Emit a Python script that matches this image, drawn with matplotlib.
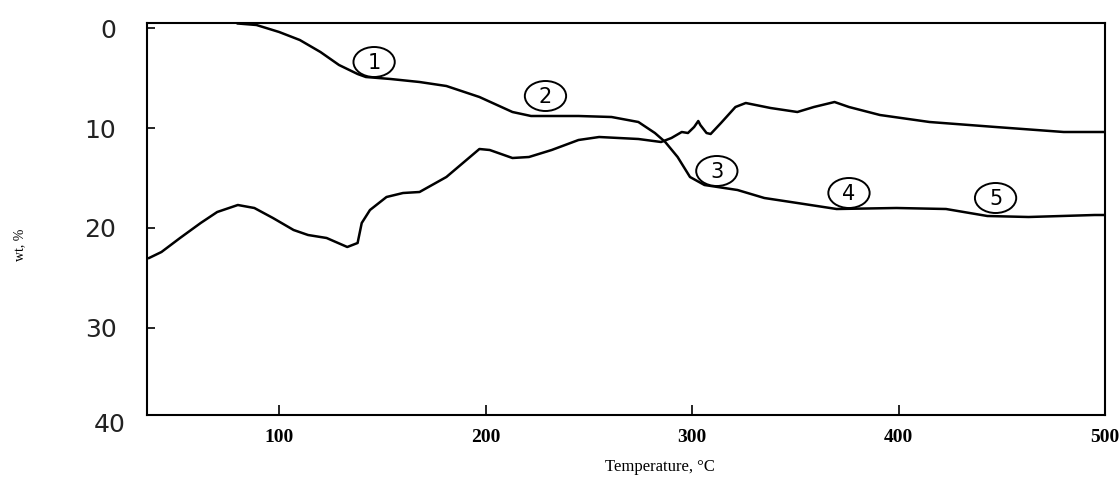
import numpy as np
import matplotlib
matplotlib.use("Agg")
from matplotlib import pyplot as plt
from matplotlib.patches import Ellipse

# upper curve (weight loss, steps 1-5)
tg_T = [80, 89, 100, 110, 120, 129, 138, 142, 154, 168, 181, 197, 213, 222, 245,
        261, 274, 282, 287, 293, 299, 306, 322, 335, 351, 370, 399, 423, 443, 463,
        495, 500]
tg_wt = [-0.45, -0.3, 0.4, 1.2, 2.4, 3.7, 4.6, 4.9, 5.1, 5.4, 5.8, 6.9, 8.4, 8.8, 8.8,
         8.9, 9.4, 10.5, 11.4, 12.9, 14.9, 15.7, 16.2, 17.0, 17.5, 18.1, 18.0, 18.1,
         18.8, 18.9, 18.7, 18.7]

# lower curve
dt_T = [37, 43, 52, 62, 70, 80, 88, 97, 107, 114, 123, 133, 138, 140, 144, 152, 160,
        168, 181, 197, 202, 213, 221, 232, 245, 255, 274, 285, 290, 295, 298, 301,
        303, 304, 307, 309, 314, 321, 326, 338, 351, 359, 369, 376, 391, 415, 447,
        480, 500]
dt_wt = [23.0, 22.4, 21.0, 19.5, 18.4, 17.7, 18.0, 19.0, 20.2, 20.7, 21.0, 21.9, 21.5,
         19.5, 18.2, 16.9, 16.5, 16.4, 14.9, 12.1, 12.2, 13.0, 12.9, 12.2, 11.2, 10.9,
         11.1, 11.4, 11.0, 10.4, 10.5, 9.9, 9.3, 9.7, 10.5, 10.6, 9.5, 7.9, 7.5, 8.0,
         8.4, 7.9, 7.4, 7.9, 8.7, 9.4, 9.9, 10.4, 10.4]

# circled step labels
step_names = ['1', '2', '3', '4', '5']
step_T = [146, 229, 312, 376, 447]
step_wt = [3.4, 6.8, 14.3, 16.5, 17.0]

x_ticks = [100, 200, 300, 400, 500]
y_ticks = [0, 10, 20, 30]

fig = plt.figure(figsize=(11.19, 4.82), dpi=100)
ax = fig.add_axes([147 / 1119, 1 - 415 / 482, (1105 - 147) / 1119, (415 - 23) / 482])

ax.plot(tg_T, tg_wt, color='black', lw=1.8)
ax.plot(dt_T, dt_wt, color='black', lw=1.8)

for name, t, w in zip(step_names, step_T, step_wt):
    ax.add_patch(Ellipse((t, w), 20, 3.0, fc='white', ec='black', lw=1.4, zorder=3))
    ax.text(t, w + 0.1, name, ha='center', va='center', fontsize=15,
            family='DejaVu Sans', zorder=4)

ax.set_xlim(36, 500)
ax.set_ylim(38.7, -0.5)
ax.set_xticks(x_ticks)
ax.set_xticklabels([str(v) for v in x_ticks], family='Liberation Serif',
                   fontweight='bold', fontsize=14)
ax.set_yticks(y_ticks)
ax.set_yticklabels([str(v) for v in y_ticks], family='DejaVu Sans', fontsize=18,
                   color='#222222')
ax.tick_params(axis='x', direction='in', length=7, width=1.2, pad=10)
ax.tick_params(axis='y', direction='in', length=6, width=1.2, pad=22)
# the "40" label sits just below the frame in the original
ax.text(-0.022, 39.7, '40', transform=ax.get_yaxis_transform(), ha='right',
        va='center', family='DejaVu Sans', fontsize=18, color='#222222', clip_on=False)
for sp in ax.spines.values():
    sp.set_linewidth(1.5)
    sp.set_color('black')

fig.text(660 / 1119, 1 - 467 / 482, 'Temperature, °C', ha='center', va='center',
         family='Liberation Serif', fontsize=12)
fig.text(20 / 1119, 1 - 245 / 482, 'wt, %', ha='center', va='center', rotation=90,
         family='Liberation Serif', fontsize=10)

fig.savefig('out.png', dpi=100)
